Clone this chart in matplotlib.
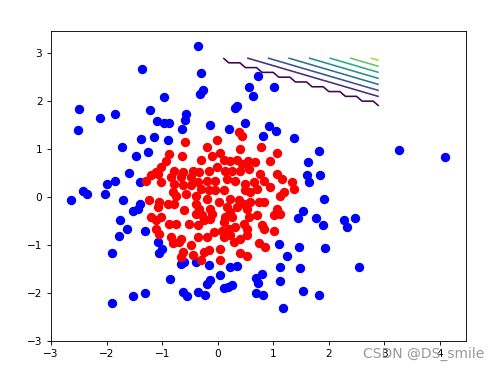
import numpy as np
import matplotlib
matplotlib.use("Agg")
import matplotlib.pyplot as plt

# blue points (outer class)
blue_x = [-1.36, -0.97, -2.49, -2.12, -1.85, -1.21, -1.09, -0.97, -0.87, -0.57, -0.59, -0.65, -2.51, -1.14,
          -0.36, -0.30, -0.26, -0.31, 0.72, 0.56, 0.64, 1.02, 0.35, 0.31, -0.14, 0.20, 0.50, 0.93, 1.05, 0.81, 1.37,
          -1.38, -0.90, -1.73, -1.47, -1.25, -1.60, -1.84, -2.00, -1.39, -2.42, -2.36, -2.03, -2.64, -1.70, -1.40,
          -1.44, -1.52, -1.76, -1.64, -1.31, -1.78,
          -1.07, -1.01, -1.05, -0.66, -0.60, -0.39, -0.16, 0.23, 0.35, 1.10, 1.46, 1.25, 1.13, 1.49, -1.90, -0.85,
          -1.91, -1.53, -1.30, -0.63, -0.56, 1.94, 0.04, -0.14, -0.19, 0.26, 0.19, 0.11, 0.79, 0.69, 0.72, 1.12,
          -0.35, -0.23, 0.69, 0.82, 1.53, 1.82, 1.17, 2.55,
          3.27, 4.10, 2.28, 2.33, 2.48, 1.83, 1.63, 1.61, 1.64, 1.84, 1.91, 1.53, 1.44, 1.77, 1.89]
blue_y = [2.67, 2.09, 1.83, 1.65, 1.74, 1.81, 1.58, 1.55, 1.55, 1.74, 1.61, 1.41, 1.39, 1.26,
          3.16, 2.58, 2.24, 2.14, 2.53, 2.29, 2.10, 2.30, 1.90, 1.86, 1.51, 1.41, 1.55, 1.48, 1.37, 1.28, 1.24,
          1.21, 1.18, 1.04, 0.85, 0.94, 0.51, 0.34, 0.27, 0.32, 0.13, 0.07, 0.06, -0.07, -0.07, -0.14,
          -0.25, -0.30, -0.49, -0.66, -0.72, -0.82,
          -0.94, -1.09, -1.16, -1.39, -1.36, -1.36, -1.42, -1.46, -1.45, -0.99, -1.04, -1.23, -1.46, -1.48, -1.18, -1.72,
          -2.21, -2.06, -2.01, -1.98, -2.06, -1.06, -1.63, -1.74, -1.82, -1.83, -1.88, -1.91, -1.60, -1.69, -1.79, -1.76,
          -1.98, -2.05, -2.01, -2.05, -1.97, -2.04, -2.31, -1.46,
          0.98, 0.83, -0.48, -0.63, -0.43, 0.95, 0.72, 0.45, 0.32, 0.46, -0.04, -0.29, -0.43, -0.43, -0.59]

# red points (inner class)
red_x = [0.38, 0.44, -0.01, -0.19, 0.40, 0.78, 1.07, -0.87, -0.65, -0.10, 0.04, -0.30, -0.93, 0.11, 0.23, 0.35,
         0.44, 0.54, 0.68, 0.95, -1.02, -1.11, -1.20, -1.08, -0.78, -0.63, -0.45, -0.33, -0.16, -0.01, 0.14, 0.26,
         0.41, 0.56, 0.77, 1.07, 1.16, 1.34, 1.37, -1.29, -0.84, -0.66, -0.48, -0.36, -0.19, -0.04, 0.17, 0.32,
         0.50, 0.65, 0.83, 0.95, -1.02, -0.78, -0.63, -0.48, -0.30, -0.16, -0.04, 0.11, 0.50, 0.59, 0.71, 1.19,
         1.13, -0.81, -0.75, -0.57, -0.39, -0.19, 0.02, 0.23, 0.38, 0.47, 0.35, 0.59, 0.74, 0.83, -1.23, -1.05,
         -1.08, -0.90, -0.78, -0.39, -0.33, -0.13, -0.10, -0.28, -0.39, -0.60, 0.17, 0.23, 0.14, 0.26, 0.53, 0.56,
         0.71, 0.80, 1.07, 1.13, 1.01, -1.20, -1.11, -1.02, -0.87, -0.75, -0.51, -0.36, -0.25, -0.13, 0.11, 0.20,
         0.32, 0.47, 0.53, 0.83, -1.11, -1.05, -0.84, -0.66, -0.81, -0.48, -0.36, -0.19, -0.07, 0.08, 0.11, 0.23,
         0.29, 0.41, 0.53, 0.74, 0.86, 1.01, -0.63, -0.45, -0.30, -0.25, -0.16, 0.05, 0.05, 0.41, 0.52, -0.59,
         -0.69, -0.66]
red_y = [1.35, 1.28, 1.19, 1.04, 1.00, 1.04, 0.91, 0.90, 0.86, 0.86, 0.92, 0.77, 0.76, 0.77, 0.75, 0.77,
         0.69, 0.75, 0.72, 0.76, 0.62, 0.52, 0.45, 0.48, 0.55, 0.52, 0.55, 0.52, 0.55, 0.62, 0.55, 0.55,
         0.55, 0.59, 0.48, 0.47, 0.38, 0.31, 0.17, 0.33, 0.41, 0.41, 0.41, 0.31, 0.34, 0.34, 0.38, 0.34,
         0.27, 0.31, 0.34, 0.20, 0.31, 0.27, 0.24, 0.24, 0.17, 0.14, 0.14, 0.14, 0.14, 0.10, 0.17, 0.10,
         0.03, 0.10, 0.03, 0.07, 0.03, -0.04, -0.11, -0.04, -0.07, -0.14, -0.21, -0.11, -0.11, -0.11, -0.07, -0.11,
         -0.21, -0.14, -0.14, -0.14, -0.25, -0.25, -0.35, -0.38, -0.35, -0.28, -0.21, -0.32, -0.42, -0.42, -0.25, -0.42,
         -0.38, -0.59, -0.25, -0.35, -0.38, -0.42, -0.49, -0.42, -0.56, -0.56, -0.56, -0.59, -0.49, -0.45, -0.52, -0.66,
         -0.63, -0.56, -0.66, -0.66, -0.66, -0.77, -0.84, -0.87, -0.97, -1.01, -0.84, -0.84, -0.73, -0.70, -0.84, -0.80,
         -0.94, -0.87, -0.80, -0.97, -1.04, -0.70, -1.15, -1.22, -1.32, -1.15, -1.11, -1.08, -1.32, -1.18, -1.24, 1.15,
         -0.93, -1.25]

# contour field: a plane clipped at zero on a 0.1 grid, levels spaced by 1
grid_step = 0.1
plane_a, plane_b, plane_c = 2.7, 7.95, 23.49
levels = np.arange(9)

xs = np.arange(-3, 3, grid_step)
ys = np.arange(-3, 3, grid_step)
xx, yy = np.meshgrid(xs, ys)
zz = np.maximum(0, plane_a * xx + plane_b * yy - plane_c)

fig = plt.figure(figsize=(5.01, 3.70), dpi=100)
ax = fig.add_axes([0.1018, 0.0792, 0.8283, 0.8378])

ax.contour(xx, yy, zz, levels=levels, cmap="viridis", linewidths=1.15)
ax.scatter(blue_x, blue_y, c="b", s=33)
ax.scatter(red_x, red_y, c="r", s=33)

ax.set_xlim(-3, 4.47)
ax.set_ylim(-3, 3.47)
ax.tick_params(labelsize=7.6, length=2.7, width=0.63)
for s in ax.spines.values():
    s.set_linewidth(0.63)

fig.text(0.846, 0.043, "CSDN @DS_smile", color="#999999", fontsize=10, ha="center", va="center")

fig.savefig("out.png")
